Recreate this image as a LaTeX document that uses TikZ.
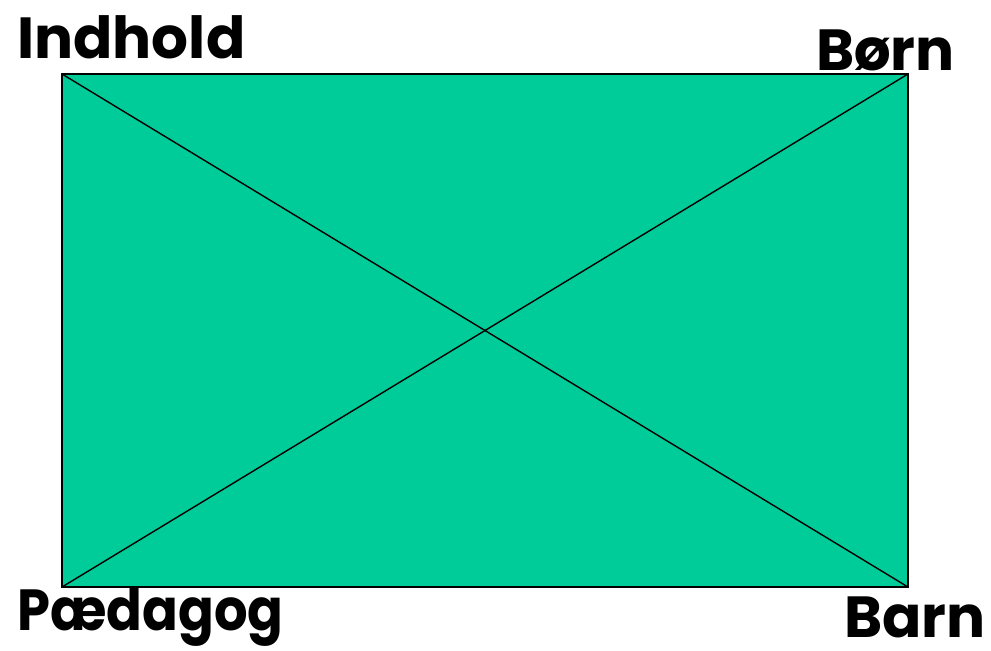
\documentclass[tikz,border=0pt]{standalone}
\usepackage{fontspec}
\setmainfont{Poppins}
\usepackage{tikz}
\usetikzlibrary{positioning}
\definecolor{kasse}{HTML}{00CC99}

\begin{document}
\begin{tikzpicture}[x=0.02cm,y=-0.02cm,
  hjorne/.style={font=\fontsize{33}{33}\selectfont\bfseries,inner sep=0pt}]
  \useasboundingbox (0,0) rectangle (991,650);
  \coordinate (nv) at (62,74);  \coordinate (no) at (908,74);
  \coordinate (sv) at (62,587); \coordinate (so) at (908,587);
  \filldraw[fill=kasse,draw=black,line width=1.1pt] (nv) rectangle (so);
  \draw[line width=0.8pt] (nv) -- (so);
  \draw[line width=0.8pt] (sv) -- (no);
  \node[hjorne,anchor=base west] (indhold) at (17,58){Indhold};
  \node[hjorne,anchor=base east] (boern) at (955,70){Børn};
  \node[hjorne,anchor=base west] (paedagog) at (17,630){\scalebox{0.91}[1]{Pædagog}};
  \node[hjorne,anchor=base east] (barn) at (986,637){Barn};
\end{tikzpicture}
\end{document}
